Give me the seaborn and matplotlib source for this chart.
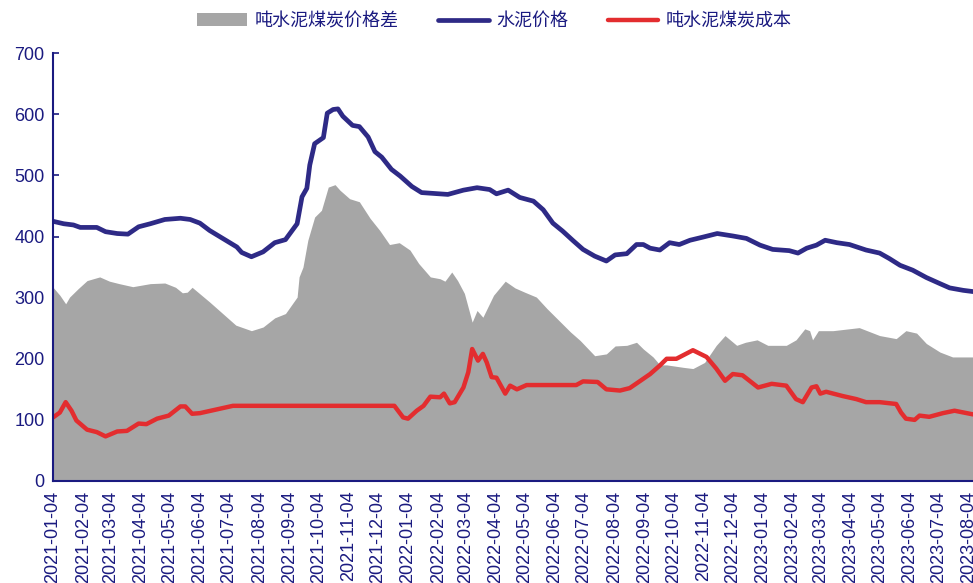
import numpy as np
import pandas as pd
import seaborn as sns
import matplotlib.pyplot as plt

# -----------------------------
# Data
# -----------------------------
price_dates = [
    "2021-01-04", "2021-01-15", "2021-01-25", "2021-02-01", "2021-02-18", "2021-02-27",
    "2021-03-11", "2021-03-22", "2021-04-02", "2021-04-14", "2021-04-29", "2021-05-15",
    "2021-05-25", "2021-06-04", "2021-06-14", "2021-07-12", "2021-07-17", "2021-07-27",
    "2021-08-08", "2021-08-20", "2021-08-31", "2021-09-12", "2021-09-17", "2021-09-22",
    "2021-09-25", "2021-09-30", "2021-10-09", "2021-10-13", "2021-10-19", "2021-10-24",
    "2021-10-29", "2021-11-08", "2021-11-15", "2021-11-24", "2021-12-01", "2021-12-08",
    "2021-12-18", "2021-12-27", "2022-01-08", "2022-01-18", "2022-02-14", "2022-03-02",
    "2022-03-16", "2022-03-29", "2022-04-05", "2022-04-17", "2022-04-29", "2022-05-13",
    "2022-05-23", "2022-06-02", "2022-06-12", "2022-06-23", "2022-07-03", "2022-07-15",
    "2022-07-27", "2022-08-05", "2022-08-17", "2022-08-27", "2022-09-03", "2022-09-10",
    "2022-09-20", "2022-09-30", "2022-10-10", "2022-10-21", "2022-11-03", "2022-11-18",
    "2022-12-04", "2022-12-18", "2023-01-01", "2023-01-14", "2023-01-31", "2023-02-09",
    "2023-02-18", "2023-02-28", "2023-03-09", "2023-03-21", "2023-04-03", "2023-04-20",
    "2023-05-04", "2023-05-14", "2023-05-25", "2023-06-07", "2023-06-21", "2023-07-05",
    "2023-07-15", "2023-07-29", "2023-08-08",
]
price = [
    425, 421, 419, 415, 415, 408,
    405, 404, 416, 421, 428, 430,
    428, 422, 410, 383, 374, 367,
    375, 390, 395, 421, 465, 479,
    517, 552, 562, 602, 608, 609,
    597, 582, 580, 563, 539, 530,
    510, 499, 482, 472, 469, 476,
    480, 477, 470, 476, 464, 458,
    444, 422, 409, 393, 379, 368,
    360, 370, 372, 387, 387, 381,
    378, 390, 387, 394, 399, 405,
    401, 397, 386, 379, 377, 373,
    381, 386, 394, 390, 387, 378,
    373, 364, 353, 345, 333, 323,
    316, 312, 310,
]

cost_dates = [
    "2021-01-04", "2021-01-11", "2021-01-17", "2021-01-23", "2021-01-28", "2021-02-08",
    "2021-02-18", "2021-02-27", "2021-03-11", "2021-03-21", "2021-04-02", "2021-04-10",
    "2021-04-21", "2021-05-03", "2021-05-15", "2021-05-20", "2021-05-27", "2021-06-04",
    "2021-07-08", "2021-12-21", "2021-12-30", "2022-01-04", "2022-01-13", "2022-01-20",
    "2022-01-27", "2022-02-06", "2022-02-10", "2022-02-16", "2022-02-21", "2022-03-02",
    "2022-03-07", "2022-03-11", "2022-03-17", "2022-03-22", "2022-03-26", "2022-03-31",
    "2022-04-05", "2022-04-14", "2022-04-19", "2022-04-26", "2022-05-06", "2022-06-26",
    "2022-07-03", "2022-07-18", "2022-07-27", "2022-08-10", "2022-08-20", "2022-08-31",
    "2022-09-10", "2022-09-20", "2022-09-27", "2022-10-07", "2022-10-24", "2022-11-07",
    "2022-11-17", "2022-11-26", "2022-12-04", "2022-12-14", "2022-12-30", "2023-01-13",
    "2023-01-28", "2023-02-07", "2023-02-14", "2023-02-23", "2023-02-28", "2023-03-04",
    "2023-03-10", "2023-03-27", "2023-04-10", "2023-04-20", "2023-05-04", "2023-05-21",
    "2023-05-26", "2023-05-31", "2023-06-09", "2023-06-14", "2023-06-24", "2023-07-08",
    "2023-07-20", "2023-08-08",
]
cost = [
    104, 112, 129, 115, 99, 84,
    80, 73, 81, 82, 94, 93,
    102, 107, 122, 122, 110, 111,
    123, 123, 104, 102, 115, 123,
    138, 137, 143, 127, 129, 153,
    178, 216, 197, 208, 194, 170,
    169, 143, 156, 150, 157, 157,
    163, 162, 150, 148, 152, 164,
    175, 189, 200, 200, 214, 203,
    184, 164, 175, 173, 153, 159,
    156, 134, 129, 153, 155, 143,
    146, 139, 134, 129, 129, 126,
    112, 102, 100, 107, 105, 111,
    115, 109,
]

spread_dates = [
    "2021-01-04", "2021-01-11", "2021-01-17", "2021-01-21", "2021-01-30", "2021-02-08",
    "2021-02-21", "2021-03-03", "2021-03-13", "2021-03-27", "2021-04-14", "2021-04-29",
    "2021-05-10", "2021-05-17", "2021-05-22", "2021-05-27", "2021-06-14", "2021-07-11",
    "2021-07-27", "2021-08-08", "2021-08-20", "2021-08-31", "2021-09-12", "2021-09-14",
    "2021-09-18", "2021-09-23", "2021-09-30", "2021-10-07", "2021-10-14", "2021-10-21",
    "2021-10-26", "2021-11-05", "2021-11-15", "2021-11-26", "2021-12-06", "2021-12-16",
    "2021-12-26", "2022-01-06", "2022-01-15", "2022-01-27", "2022-02-06", "2022-02-11",
    "2022-02-18", "2022-02-24", "2022-03-03", "2022-03-11", "2022-03-16", "2022-03-22",
    "2022-04-02", "2022-04-14", "2022-04-24", "2022-05-04", "2022-05-16", "2022-05-27",
    "2022-06-08", "2022-06-20", "2022-06-30", "2022-07-15", "2022-07-27", "2022-08-05",
    "2022-08-17", "2022-08-27", "2022-09-03", "2022-09-13", "2022-09-20", "2022-09-27",
    "2022-10-14", "2022-10-24", "2022-11-05", "2022-11-17", "2022-11-26", "2022-12-08",
    "2022-12-17", "2022-12-29", "2023-01-09", "2023-01-28", "2023-02-07", "2023-02-16",
    "2023-02-21", "2023-02-24", "2023-03-02", "2023-03-17", "2023-04-13", "2023-05-04",
    "2023-05-21", "2023-05-31", "2023-06-11", "2023-06-21", "2023-07-05", "2023-07-18",
    "2023-08-08",
]
spread = [
    317, 304, 290, 301, 315, 328,
    334, 327, 323, 318, 323, 324,
    317, 308, 309, 317, 293, 255,
    246, 252, 267, 274, 301, 334,
    350, 394, 432, 443, 481, 485,
    476, 462, 457, 430, 410, 387,
    390, 378, 356, 334, 331, 327,
    342, 328, 307, 260, 279, 268,
    304, 327, 316, 309, 301, 282,
    263, 244, 230, 205, 208, 221,
    222, 227, 216, 203, 190, 190,
    186, 184, 194, 222, 238, 222,
    227, 231, 222, 222, 231, 249,
    246, 231, 246, 246, 251, 238,
    233, 246, 242, 225, 211, 203,
    203,
]

labels = ["吨水泥煤炭价格差", "水泥价格", "吨水泥煤炭成本"]

# -----------------------------
# Plot
# -----------------------------
sns.set_theme(style="white")
plt.rcParams["font.family"] = ["Liberation Sans", "Noto Sans CJK SC", "DejaVu Sans"]

navy = "#2E2A86"
red = "#E32D2F"
gray = "#A6A6A6"
axis_col = "#1A1A80"

fig = plt.figure(figsize=(9.73, 5.83), dpi=100)
ax = fig.add_axes([0.0545, 0.175, 0.9455, 0.7336])

sd = pd.to_datetime(spread_dates)
ax.fill_between(sd, 0, spread, color=gray, linewidth=0, label=labels[0])
sns.lineplot(x=pd.to_datetime(price_dates), y=price, ax=ax, color=navy,
             linewidth=3.4, label=labels[1])
sns.lineplot(x=pd.to_datetime(cost_dates), y=cost, ax=ax, color=red,
             linewidth=3.2, label=labels[2])

ticks = pd.date_range("2021-01-04", "2023-08-04", freq=pd.DateOffset(months=1))
ax.set_xticks(ticks)
ax.set_xticklabels([t.strftime("%Y-%m-%d") for t in ticks], rotation=90,
                   fontsize=13, color=axis_col)
ax.set_xlim(pd.Timestamp("2021-01-04"), pd.Timestamp("2023-08-08"))
ax.set_ylim(0, 700)
ax.set_yticks(range(0, 701, 100))
ax.tick_params(axis="y", labelsize=13, labelcolor=axis_col, pad=6)
ax.tick_params(axis="x", pad=7)
ax.tick_params(direction="in", length=4, width=1.2, color=axis_col,
               bottom=True, left=True)
ax.set_xlabel("")
ax.set_ylabel("")

for side in ["top", "right"]:
    ax.spines[side].set_visible(False)
for side in ["left", "bottom"]:
    ax.spines[side].set_color(axis_col)
    ax.spines[side].set_linewidth(1.5)

handles, labs = ax.get_legend_handles_labels()
ax.legend_.remove()
leg = fig.legend(handles, labs, loc="center", bbox_to_anchor=(0.508, 0.964),
                 ncol=3, frameon=False, handlelength=2.8, columnspacing=2.2,
                 handletextpad=0.4, prop={"family": ["Noto Sans CJK SC"], "size": 13})
for t in leg.get_texts():
    t.set_color(axis_col)

fig.savefig("out.png", dpi=100)
